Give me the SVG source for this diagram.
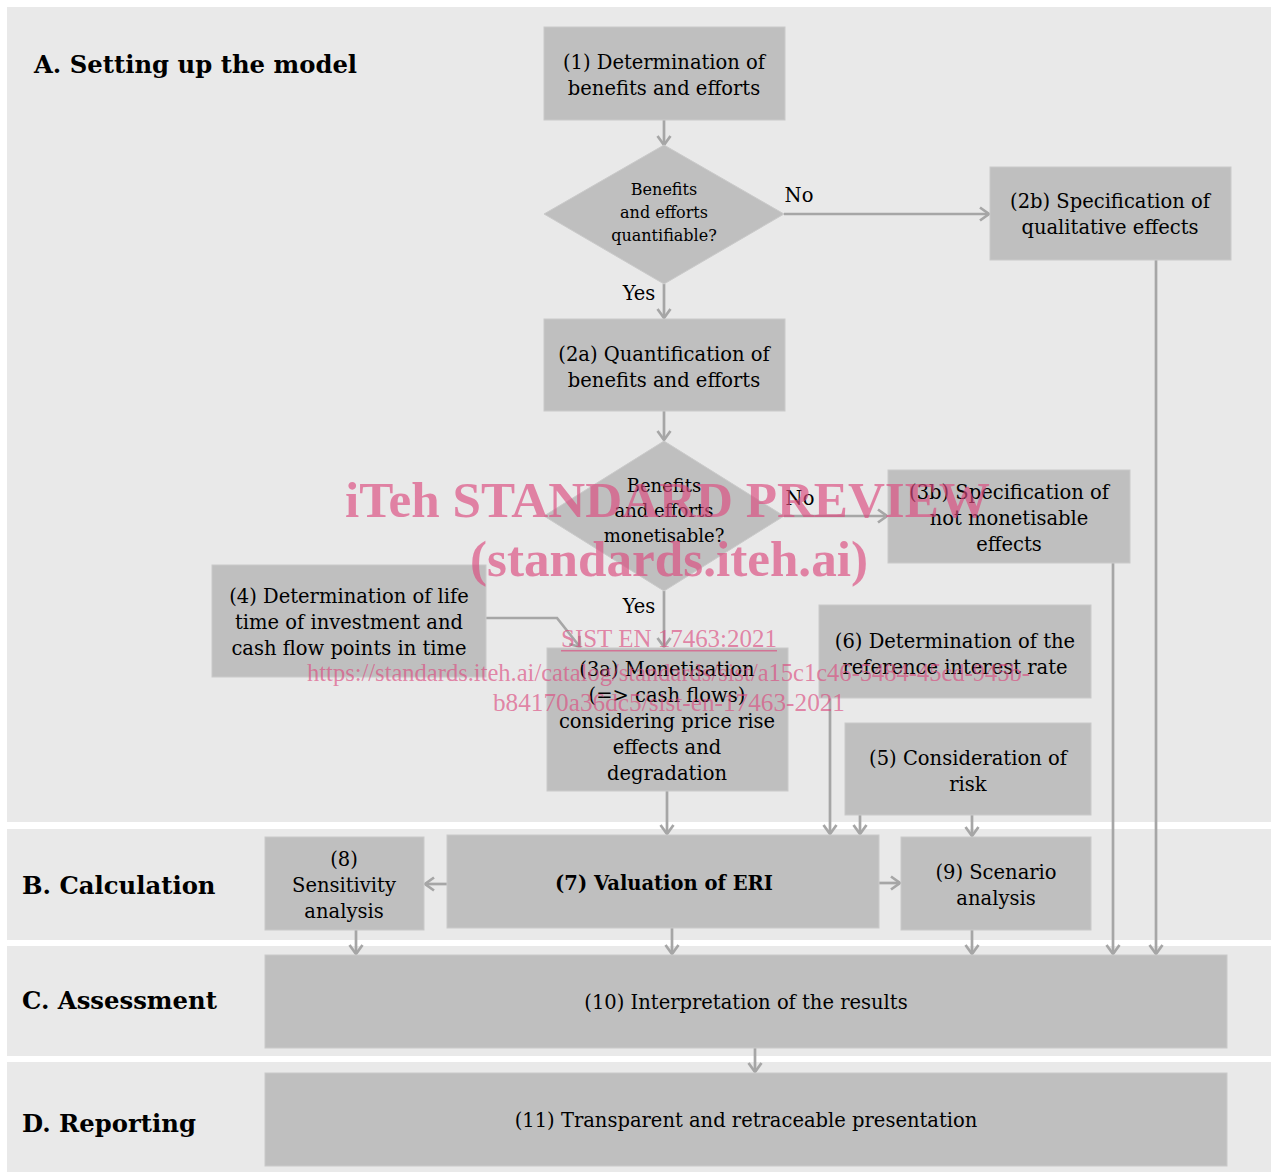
<svg xmlns="http://www.w3.org/2000/svg" width="1271" height="1172" viewBox="0 0 1271 1172">
<style>
.band{fill:#e9e9e9}
.node{fill:#bfbfbf;stroke:#cacaca;stroke-width:1}
.t{font-family:"DejaVu Serif","Liberation Serif",serif;font-size:19.5px;fill:#000;text-anchor:middle}
.sm{font-size:16px}
.md{font-size:18px}
.b{font-weight:bold}
.title{font-family:"DejaVu Serif","Liberation Serif",serif;font-weight:bold;font-size:24.3px;fill:#000}
.conn{stroke:#a6a6a6;stroke-width:2.7;fill:none;marker-end:url(#arr)}
.wm{font-family:"Liberation Serif",serif;fill:#dc4a7e;fill-opacity:0.65;text-anchor:start}
</style>
<defs>
<marker id="arr" markerUnits="userSpaceOnUse" markerWidth="16" markerHeight="16" refX="11" refY="8" orient="auto">
<path d="M2,1.5 L11,8 L2,14.5" fill="none" stroke="#a6a6a6" stroke-width="2.7"/>
</marker>
</defs>
<rect width="1271" height="1172" fill="#ffffff"/>
<g id="bands">
<rect class="band" x="7" y="7" width="1264" height="815"/>
<rect class="band" x="7" y="829" width="1264" height="111"/>
<rect class="band" x="7" y="946" width="1264" height="110"/>
<rect class="band" x="7" y="1062" width="1264" height="110"/>
</g>
<g id="phase-labels">
<text class="title" x="34" y="73">A. Setting up the model</text>
<text class="title" x="22" y="894">B. Calculation</text>
<text class="title" x="22" y="1009">C. Assessment</text>
<text class="title" x="22" y="1132">D. Reporting</text>
</g>
<g id="connectors">
<line class="conn" x1="664" y1="120" x2="664" y2="145"/>
<line class="conn" x1="784" y1="214" x2="989" y2="214"/>
<line class="conn" x1="664" y1="284" x2="664" y2="318"/>
<line class="conn" x1="664" y1="411" x2="664" y2="440"/>
<line class="conn" x1="784" y1="516" x2="887" y2="516"/>
<line class="conn" x1="664" y1="591" x2="664" y2="647"/>
<polyline class="conn" points="486,618 557,618 580,647"/>
<line class="conn" x1="667" y1="791" x2="667" y2="834"/>
<line class="conn" x1="830" y1="698" x2="830" y2="834"/>
<line class="conn" x1="860" y1="815" x2="860" y2="834"/>
<line class="conn" x1="972" y1="815" x2="972" y2="836"/>
<line class="conn" x1="447" y1="884" x2="425" y2="884"/>
<line class="conn" x1="879" y1="883" x2="900" y2="883"/>
<line class="conn" x1="356" y1="930" x2="356" y2="954"/>
<line class="conn" x1="672" y1="928" x2="672" y2="954"/>
<line class="conn" x1="972" y1="930" x2="972" y2="954"/>
<line class="conn" x1="1113" y1="563" x2="1113" y2="954"/>
<line class="conn" x1="1156" y1="260" x2="1156" y2="954"/>
<line class="conn" x1="755" y1="1048" x2="755" y2="1072"/>
<text class="t" x="799" y="202">No</text>
<text class="t" x="639" y="300">Yes</text>
<text class="t" x="800" y="505">No</text>
<text class="t" x="639" y="613">Yes</text>
</g>
<g id="n1"><rect class="node" x="544" y="27" width="241" height="93"/>
<text class="t" x="664" y="69">(1) Determination of</text><text class="t" x="664" y="95">benefits and efforts</text></g>
<g id="d1"><polygon class="node" points="664,145 784,214 664,284 544,214"/>
<text class="t sm" x="664" y="195">Benefits</text><text class="t sm" x="664" y="218">and efforts</text><text class="t sm" x="664" y="241">quantifiable?</text></g>
<g id="n2b"><rect class="node" x="990" y="167" width="241" height="93"/>
<text class="t" x="1110" y="208">(2b) Specification of</text><text class="t" x="1110" y="234">qualitative effects</text></g>
<g id="n2a"><rect class="node" x="544" y="319" width="241" height="92"/>
<text class="t" x="664" y="361">(2a) Quantification of</text><text class="t" x="664" y="387">benefits and efforts</text></g>
<g id="d2"><polygon class="node" points="664,441 784,516 664,591 544,516"/>
<text class="t md" x="664" y="492">Benefits</text><text class="t md" x="664" y="517">and efforts</text><text class="t md" x="664" y="542">monetisable?</text></g>
<g id="n3b"><rect class="node" x="888" y="470" width="242" height="93"/>
<text class="t" x="1009" y="499">(3b) Specification of</text><text class="t" x="1009" y="525">not monetisable</text><text class="t" x="1009" y="551">effects</text></g>
<g id="n4"><rect class="node" x="212" y="565" width="274" height="112"/>
<text class="t" x="349" y="603">(4) Determination of life</text><text class="t" x="349" y="629">time of investment and</text><text class="t" x="349" y="655">cash flow points in time</text></g>
<g id="n3a"><rect class="node" x="547" y="648" width="241" height="143"/>
<text class="t" x="667" y="676">(3a) Monetisation</text><text class="t" x="667" y="702">(=&gt; cash flows)</text><text class="t" x="667" y="728">considering price rise</text><text class="t" x="667" y="754">effects and</text><text class="t" x="667" y="780">degradation</text></g>
<g id="n6"><rect class="node" x="819" y="605" width="272" height="93"/>
<text class="t" x="955" y="648">(6) Determination of the</text><text class="t" x="955" y="674">reference interest rate</text></g>
<g id="n5"><rect class="node" x="845" y="723" width="246" height="92"/>
<text class="t" x="968" y="765">(5) Consideration of</text><text class="t" x="968" y="791">risk</text></g>
<g id="n7"><rect class="node" x="447" y="835" width="432" height="93"/>
<text class="t b" x="664" y="890">(7) Valuation of ERI</text></g>
<g id="n8"><rect class="node" x="265" y="837" width="159" height="93"/>
<text class="t" x="344" y="866">(8)</text><text class="t" x="344" y="892">Sensitivity</text><text class="t" x="344" y="918">analysis</text></g>
<g id="n9"><rect class="node" x="901" y="837" width="190" height="93"/>
<text class="t" x="996" y="879">(9) Scenario</text><text class="t" x="996" y="905">analysis</text></g>
<g id="n10"><rect class="node" x="265" y="955" width="962" height="93"/>
<text class="t" x="746" y="1009">(10) Interpretation of the results</text></g>
<g id="n11"><rect class="node" x="265" y="1073" width="962" height="93"/>
<text class="t" x="746" y="1127">(11) Transparent and retraceable presentation</text></g>
<g id="watermark">
<text class="wm" x="345" y="517" font-size="51" font-weight="bold" textLength="645" lengthAdjust="spacingAndGlyphs">iTeh STANDARD PREVIEW</text>
<text class="wm" x="470" y="576" font-size="51" font-weight="bold" textLength="398" lengthAdjust="spacingAndGlyphs">(standards.iteh.ai)</text>
<text class="wm" x="561" y="647" font-size="25" textLength="216" lengthAdjust="spacingAndGlyphs">SIST EN 17463:2021</text>
<rect x="561" y="650" width="216" height="1.5" fill="#dc4a7e" fill-opacity="0.65"/>
<text class="wm" x="307" y="681" font-size="25" textLength="723" lengthAdjust="spacingAndGlyphs">https://standards.iteh.ai/catalog/standards/sist/a15c1c46-5484-45cd-945b-</text>
<text class="wm" x="493" y="711" font-size="25" textLength="352" lengthAdjust="spacingAndGlyphs">b84170a36dc5/sist-en-17463-2021</text>
</g>
</svg>
